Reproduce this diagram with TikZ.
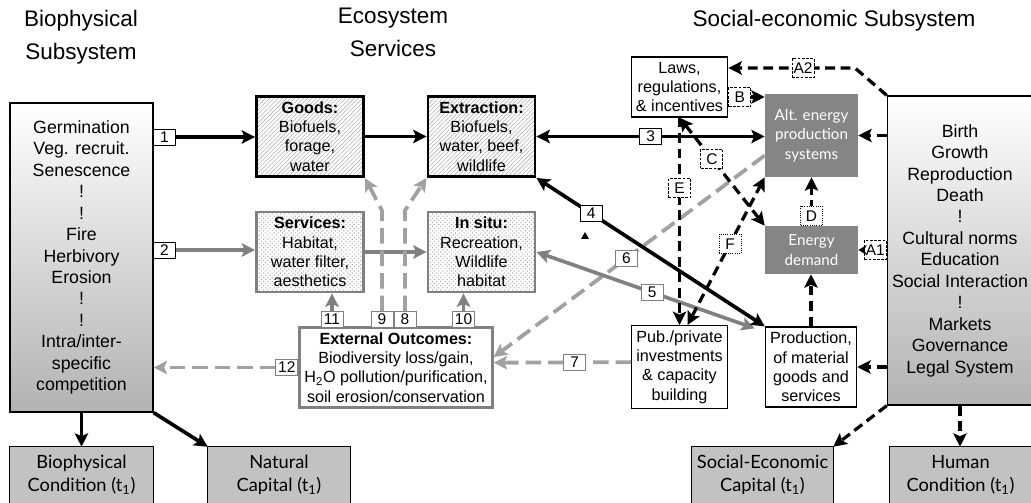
\documentclass[tikz,border=0pt]{standalone}
\usepackage{fontspec}
\setmainfont{Liberation Sans}
\newfontfamily\gill{Lato}
\usetikzlibrary{arrows.meta,patterns,positioning}
\definecolor{midgray}{gray}{0.5}
\definecolor{litgray}{gray}{0.63}
\definecolor{boxgray}{gray}{0.52}
\definecolor{capgray}{gray}{0.76}
\begin{document}
\begin{tikzpicture}[x=0.025cm,y=-0.025cm,>={Stealth[length=9.5pt,width=9.5pt,inset=2pt]},
    every node/.style={align=center},
    head/.style={font=\fontsize{16}{23.4}\selectfont,inner sep=0pt},
    subsys/.style={draw,line width=0.9pt,top color=white,bottom color=black!30,minimum width=#1,minimum height=7.725cm,font=\fontsize{12.6}{15.25}\selectfont},
    esbox/.style={line width=2pt,minimum width=2.675cm,minimum height=2cm,font=\fontsize{11.5}{13.8}\selectfont},
    goodsbox/.style={esbox,draw=black,pattern=north east lines,pattern color=black!30},
    servbox/.style={esbox,draw=midgray,pattern=crosshatch dots,pattern color=black!35},
    plainbox/.style={draw,fill=white,line width=0.9pt,minimum width=#1,minimum height=2cm,font=\fontsize{11.5}{13.8}\selectfont},
    energybox/.style={fill=boxgray,text=white,minimum width=2.325cm,font=\gill\fontsize{10.8}{13.8}\selectfont},
    capbox/.style={fill=capgray,minimum width=#1,minimum height=1.4cm,font=\gill\fontsize{13}{16.3}\selectfont},
    numlab/.style={draw,solid,fill=white,line width=0.7pt,inner sep=1pt,minimum width=0.55cm,minimum height=0.4cm,font=\fontsize{11}{11}\selectfont},
    glab/.style={numlab,draw=midgray},
    letlab/.style={numlab,line width=0.6pt,dash pattern=on 2pt off 1pt,minimum height=0.48cm},
    dotlab/.style={letlab,densely dotted},
    blk/.style={draw=black,line width=2.6pt},
    gry/.style={draw=midgray,line width=2.6pt},
    bdash/.style={draw=black,line width=2.3pt,dash pattern=on 7pt off 4pt},
    gdash/.style={draw=litgray,line width=2.7pt,dash pattern=on 11pt off 5pt}]
\useasboundingbox (0,0) rectangle (1031,503);
\clip (0,0) rectangle (1031,503);

\node[subsys=3.575cm] (bio) at (81.5,257.5) {Germination\\Veg. recruit.\\Senescence\\!\\!\\Fire\\Herbivory\\Erosion\\!\\!\\Intra/inter-\\specific\\competition};
\node[subsys=3.5cm] (socio) at (960,250.5) {Birth\\Growth\\Reproduction\\Death\\!\\Cultural norms\\Education\\Social Interaction\\!\\Markets\\Governance\\Legal System};

\node[head,anchor=north] (hbio) at (81,10) {Biophysical\\Subsystem};
\node[head,anchor=north] (hes) at (393,8) {Ecosystem\\Services};
\node[head,anchor=north] (hse) at (834,10) {Social-economic Subsystem};

\node[goodsbox] (goods) at (310,136.5) {\textbf{Goods:}\\Biofuels,\\forage,\\water};
\node[goodsbox] (extr) at (481.5,136.5) {\textbf{Extraction:}\\Biofuels,\\water, beef,\\wildlife};
\node[servbox] (serv) at (310,252) {\textbf{Services:}\\Habitat,\\water filter,\\aesthetics};
\node[servbox] (insitu) at (481.5,252) {\textbf{In situ:}\\Recreation,\\Wildlife\\habitat};
\node[plainbox=4.8cm,draw=midgray,line width=2pt,minimum height=1.975cm] (ext) at (396,367.5) {\textbf{External Outcomes:}\\Biodiversity loss/gain,\\H\textsubscript{2}O pollution/purification,\\soil erosion/conservation};

\node[plainbox=2.375cm,minimum height=1.5cm] (laws) at (679.5,87) {Laws,\\regulations,\\\& incentives};
\node[energybox,minimum height=2.075cm] (alt) at (811.5,135.5) {Alt. energy\\production\\systems};
\node[energybox,minimum height=1.2cm] (dem) at (811.5,250) {Energy\\demand};
\node[plainbox=2.375cm] (pub) at (679.5,367) {Pub./private\\investments\\\& capacity\\building};
\node[plainbox=2.2cm] (prod) at (811,367) {Production,\\of material\\goods and\\services};

\node[capbox=3.575cm] (biocond) at (81.5,475) {Biophysical\\Condition (t\textsubscript{1})};
\node[capbox=3.55cm] (natcap) at (279,475) {Natural\\Capital (t\textsubscript{1})};
\node[capbox=3.525cm] (secap) at (762.5,475) {Social-Economic\\Capital (t\textsubscript{1})};
\node[capbox=3.525cm] (human) at (960.5,475) {Human\\Condition (t\textsubscript{1})};
\foreach \b in {biocond,natcap,secap,human}
  \draw[line width=0.9pt] (\b.south west) -- (\b.north west) -- (\b.north east) -- (\b.south east);

\node[numlab,anchor=west] (n1) at (153,137) {1};
\node[numlab,anchor=west] (n2) at (153,250) {2};
\node[glab,anchor=south] (n11) at (332,328) {11};
\node[glab,anchor=south] (n9) at (382,328) {9};
\node[glab,right=0pt of n9] (n8) {8};
\node[glab,anchor=south] (n10) at (463.5,328) {10};
\node[glab,anchor=east] (n12) at (ext.west) {12};

\draw[blk,->] (n1) -- (n1 -| goods.west);
\draw[gry,->] (n2) -- (n2 -| serv.west);
\draw[blk,->] (goods) -- (extr);
\draw[gry,->] (serv) -- (insitu);
\draw[gry,->] (n11) -- (n11 |- serv.south);
\draw[gry,->] (n10) -- (n10 |- insitu.south);
\draw[gdash,->] (n9) -- ++(0,-109) -- (goods.south east);
\draw[gdash,->] (n8) -- ++(0,-109) -- (extr.south west);
\draw[gdash,->] (n12) -- (n12 -| bio.east);

\draw[gdash,->] ([yshift=0.12cm]pub.west) -- ([yshift=0.12cm]ext.east) node[glab,pos=0.41] (n7) {7};
\draw[gdash,->] ([yshift=-0.5cm]alt.west) -- ([yshift=0.26cm]ext.east) node[glab,pos=0.51] (n6) {6};
\draw[gry,<->] ([xshift=-0.25cm,yshift=-0.05cm]prod.north west) -- (insitu.east) node[glab,pos=0.47] (n5) {5};

\draw[bdash,->] (laws.south) -- (laws.south |- pub.north) node[letlab,pos=0.34] (nE) {E};
\draw[bdash,<->] (laws.south) -- (dem.north west) node[letlab,pos=0.38] (nC) {C};
\draw[bdash,<->] ([xshift=0.2cm]pub.north) -- (alt.south west) node[dotlab,pos=0.55] (nF) {F};
\draw[blk,<->] (extr.east) -- (extr.east -| alt.west) node[numlab,midway] (n3) {3};
\draw[blk,<->] (extr.south east) -- (prod.north west) node[numlab,pos=0.24] (n4) {4};
\fill (581,239) -- (589,239) -- (585,232) -- cycle;

\coordinate (a2c) at (855,68);
\draw[bdash,->] (socio.north west) -- (a2c) -- (a2c -| laws.east) node[letlab,pos=0.41] (nA2) {A2};
\node[letlab,anchor=west] (nB) at ([yshift=-0.25cm]laws.east) {B};
\draw[bdash,->] (nB) -- (nB -| alt.west);
\draw[bdash,->] (alt.east -| socio.west) -- (alt.east);
\draw[bdash,->] (dem.north) -- (alt.south) node[dotlab,pos=0.2] (nD) {D};
\node[letlab,anchor=east] (nA1) at (socio.west |- dem) {A1};
\draw[bdash,-{Stealth[length=6pt,width=7pt]}] (nA1) -- (dem);
\draw[bdash,->] (prod.north) -- (prod.north |- dem.south);
\draw[bdash,->] (prod.east -| socio.west) -- (prod.east);

\draw[blk,->] (bio) -- (bio.south |- biocond.north);
\draw[blk,->] (bio.south east) -- (natcap.north west);
\draw[bdash,->] (socio.south west) -- (secap.north east);
\draw[bdash,->] (socio.south) -- (socio.south |- human.north);
\end{tikzpicture}
\end{document}
